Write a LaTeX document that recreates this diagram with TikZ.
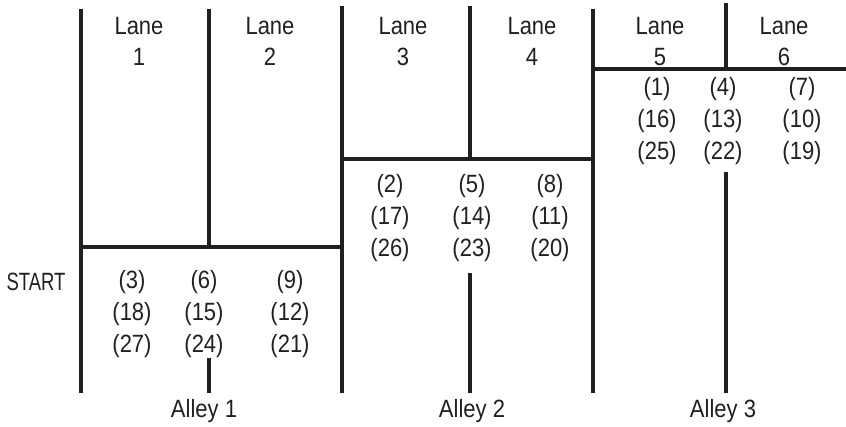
\documentclass[tikz,border=0pt]{standalone}
\usepackage{fontspec}
\setmainfont{Liberation Sans}[FakeStretch=0.88]
\newfontfamily\capsfont{Liberation Sans}[FakeStretch=0.74]
\definecolor{ink}{HTML}{231F20}
\begin{document}
\begin{tikzpicture}[x=1pt,y=-1pt,
  wall/.style={draw=ink,line width=4.6pt},
  lbl/.style={text=ink,inner sep=0pt,anchor=base,font=\fontsize{25}{30}\selectfont},
  nums/.style={text=ink,inner sep=0pt,align=center,font=\fontsize{25}{32}\selectfont}]
\useasboundingbox (0,0) rectangle (846,426);

% --- walls and dividers ---
% alley 1
\draw[wall] (81,9) -- (81,393);
\draw[wall] (209,9) -- (209,247);
\draw[wall] (81,247) -- (342,247);
\draw[wall] (209,358) -- (209,393);
\draw[wall] (342,6) -- (342,393);
% alley 2
\draw[wall] (470,6) -- (470,159);
\draw[wall] (342,159) -- (593,159);
\draw[wall] (470,273) -- (470,393);
\draw[wall] (593,9) -- (593,393);
% alley 3
\draw[wall] (726,3) -- (726,69);
\draw[wall] (593,69) -- (846,69);
\draw[wall] (726,172) -- (726,393);

% --- lane labels (two lines each, placed by baseline) ---
\foreach \n/\x in {1/139,2/270,3/403,4/532,5/660,6/784}{
  \node[lbl] (lane\n) at (\x,34) {Lane};
  \node[lbl] (lanenum\n) at (\x,65) {\n};
}

% --- stop numbers ---
\node[nums] (a1c1) at (132,314) {(3)\\(18)\\(27)};
\node[nums] (a1c2) at (204,314) {(6)\\(15)\\(24)};
\node[nums] (a1c3) at (290,314) {(9)\\(12)\\(21)};
\node[nums] (a2c1) at (390,218) {(2)\\(17)\\(26)};
\node[nums] (a2c2) at (472,218) {(5)\\(14)\\(23)};
\node[nums] (a2c3) at (550,218) {(8)\\(11)\\(20)};
\node[nums] (a3c1) at (657,121) {(1)\\(16)\\(25)};
\node[nums] (a3c2) at (723,121) {(4)\\(13)\\(22)};
\node[nums] (a3c3) at (802,121) {(7)\\(10)\\(19)};

% --- start and alley names ---
\node[lbl,font=\fontsize{25}{30}\capsfont] (start) at (36,290) {START};
\node[lbl] (alley1) at (204,417) {Alley 1};
\node[lbl] (alley2) at (472,417) {Alley 2};
\node[lbl] (alley3) at (723,417) {Alley 3};
\end{tikzpicture}
\end{document}
